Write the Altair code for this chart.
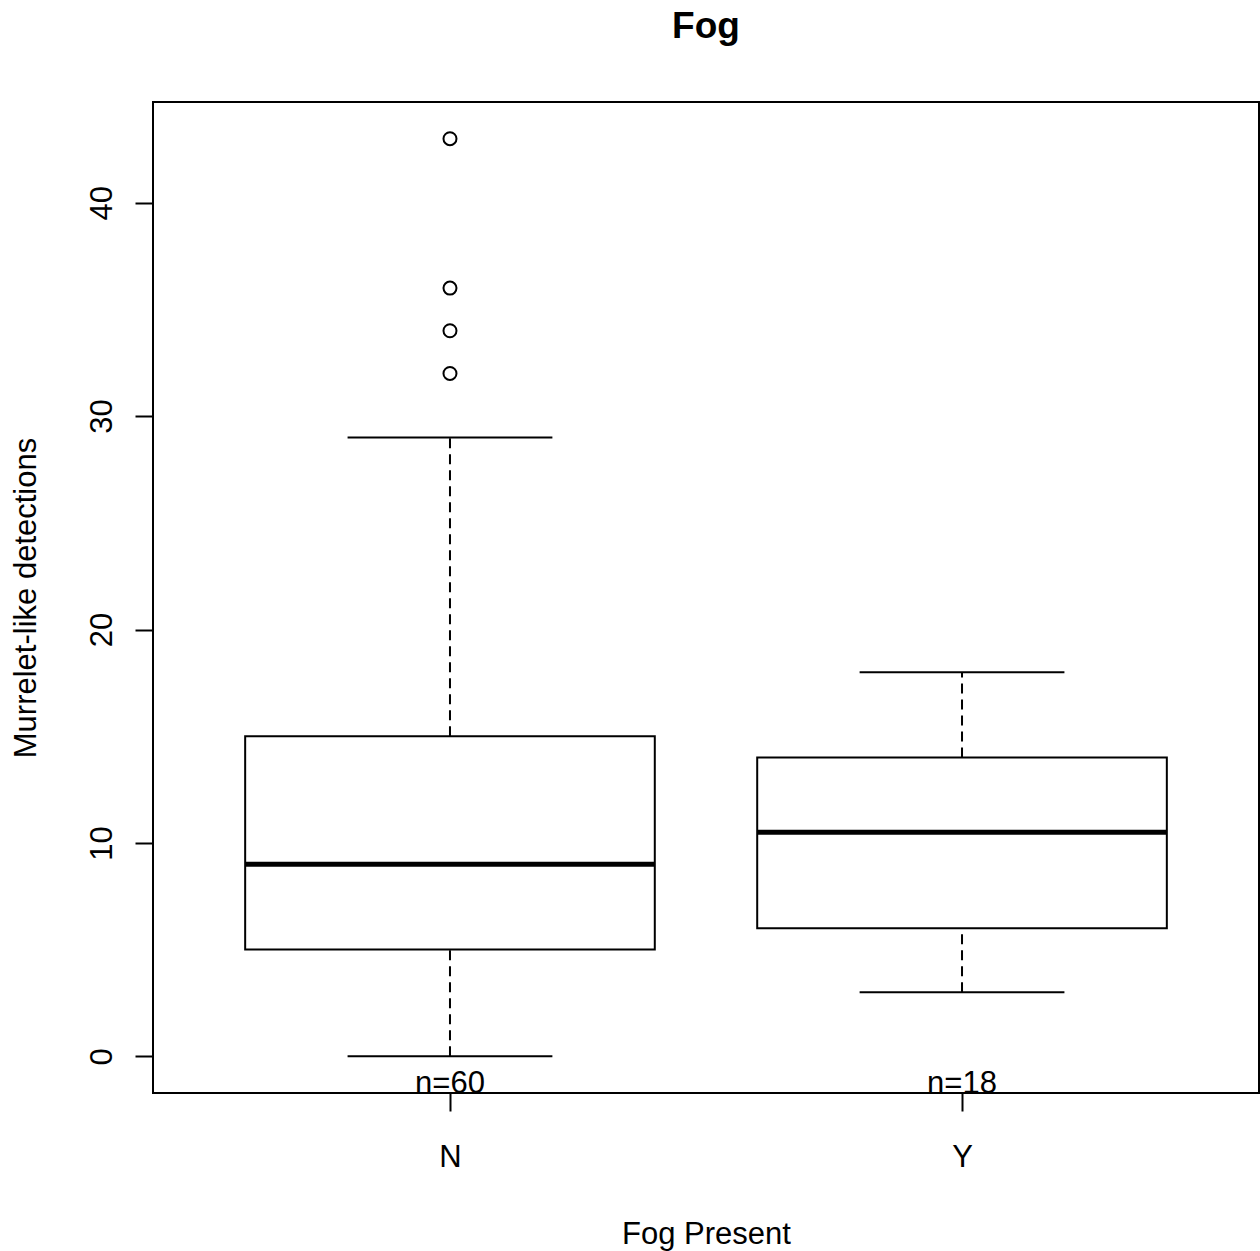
import altair as alt
import pandas as pd

# ---- data ----
groups = ["N", "Y"]
group_pos = [1, 2]
whisker_low = [0, 3]
box_q1 = [5, 6]
box_median = [9, 10.5]
box_q3 = [15, 14]
whisker_high = [29, 18]
n_obs = [60, 18]
outlier_groups = ["N", "N", "N", "N"]
outlier_values = [32, 34, 36, 43]
y_ticks = [0, 10, 20, 30, 40]

FONT = "Liberation Sans"
BOX_HALF = 0.4
CAP_HALF = 0.2
W, H = 1106, 991

stats = pd.DataFrame({
    "group": groups, "pos": group_pos, "lo": whisker_low, "q1": box_q1,
    "med": box_median, "q3": box_q3, "hi": whisker_high, "n": n_obs,
})
stats["bl"] = stats["pos"] - BOX_HALF
stats["br"] = stats["pos"] + BOX_HALF
stats["cl"] = stats["pos"] - CAP_HALF
stats["cr"] = stats["pos"] + CAP_HALF
stats["nlabel"] = ["n=" + str(v) for v in n_obs]

pos_map = dict(zip(groups, group_pos))
outl = pd.DataFrame({"group": outlier_groups, "value": outlier_values})
outl["pos"] = [pos_map[g] for g in outlier_groups]

xscale = alt.Scale(domain=[0.42, 2.58], nice=False, zero=False)
yscale = alt.Scale(domain=[-1.72, 44.72], nice=False, zero=False)

xaxis = alt.Axis(
    values=[1, 2], labelExpr="datum.value == 1 ? 'N' : 'Y'",
    grid=False, domain=False, tickSize=18, tickColor="black", tickWidth=2,
    labelFont=FONT, labelFontSize=31, labelColor="black",
    labelBaseline="alphabetic", labelPadding=55, labelFlush=False,
    title="Fog Present", titleFont=FONT, titleFontSize=31, titleFontWeight="normal",
    titleColor="black", titleX=W / 2, titleY=150, titleBaseline="alphabetic",
    titleAlign="center",
)
yaxis = alt.Axis(
    values=y_ticks, grid=False, domain=False, tickSize=18, tickColor="black",
    tickWidth=2, labelFont=FONT, labelFontSize=31, labelColor="black",
    labelAngle=270, labelAlign="center", labelBaseline="alphabetic",
    labelPadding=24, labelFlush=False,
    title="Murrelet-like detections", titleFont=FONT, titleFontSize=31,
    titleFontWeight="normal", titleColor="black", titleAngle=270,
    titleX=-118, titleY=H / 2, titleBaseline="alphabetic", titleAlign="center",
)


def X(field):
    return alt.X(field, type="quantitative", scale=xscale, axis=xaxis, title="Fog Present")


def Y(field):
    return alt.Y(field, type="quantitative", scale=yscale, axis=yaxis, title="Murrelet-like detections")


base = alt.Chart(stats)

whisk_up = base.mark_rule(color="black", strokeWidth=2, strokeDash=[10, 6]).encode(
    x=X("pos"), y=Y("q3"), y2="hi")
whisk_dn = base.mark_rule(color="black", strokeWidth=2, strokeDash=[10, 6]).encode(
    x=X("pos"), y=Y("lo"), y2="q1")
cap_hi = base.mark_rule(color="black", strokeWidth=2).encode(
    x=X("cl"), x2="cr", y=Y("hi"))
cap_lo = base.mark_rule(color="black", strokeWidth=2).encode(
    x=X("cl"), x2="cr", y=Y("lo"))
box = base.mark_rect(fill="white", stroke="black", strokeWidth=2).encode(
    x=X("bl"), x2="br", y=Y("q1"), y2="q3")
med = base.mark_rule(color="black", strokeWidth=5).encode(
    x=X("bl"), x2="br", y=Y("med"))
nlab = base.mark_text(font=FONT, fontSize=31, color="black", baseline="alphabetic",
                      align="center").encode(
    x=X("pos"), y=alt.value(H), text="nlabel:N")
pts = alt.Chart(outl).mark_point(shape="circle", filled=False, color="black",
                                 strokeWidth=2, size=169, opacity=1).encode(
    x=X("pos"), y=Y("value"))

chart = alt.layer(whisk_up, whisk_dn, cap_hi, cap_lo, box, med, pts, nlab).properties(
    width=W, height=H,
    title=alt.Title("Fog", font=FONT, fontSize=37, fontWeight="bold", color="black",
                    anchor="middle", frame="group", baseline="alphabetic", offset=27),
    autosize=alt.AutoSizeParams(type="none"),
    padding={"left": 153, "top": 102, "right": 1, "bottom": 158},
    background="white",
).configure_view(stroke="black", strokeWidth=2)

chart.save("out.html", embed_options={"renderer": "svg", "actions": False})
